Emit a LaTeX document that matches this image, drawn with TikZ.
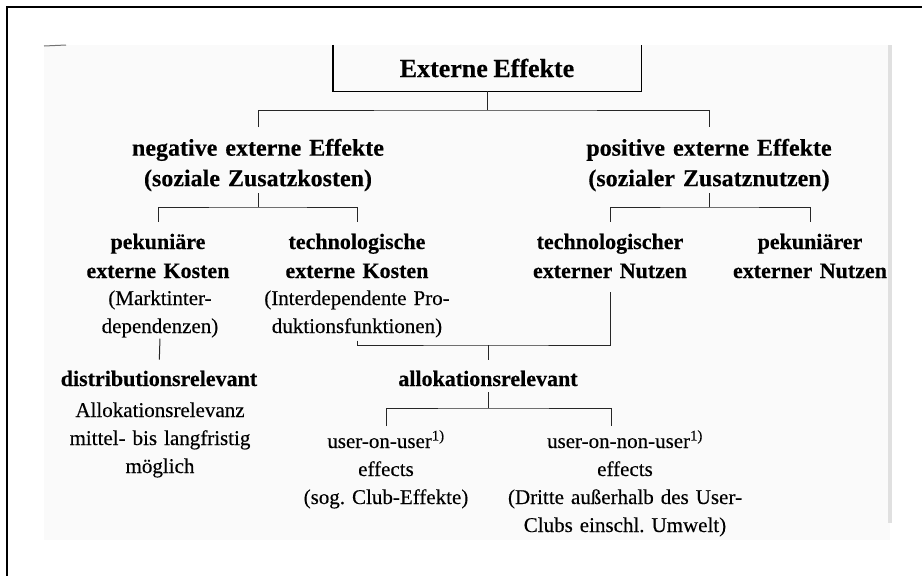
\documentclass[tikz,border=0pt]{standalone}
\usepackage{fontspec}
\setmainfont{Liberation Serif}[WordSpace=0.85, UprightFeatures={FakeBold=0.3}, BoldFeatures={FakeBold=0.3}]
\begin{document}
\frenchspacing
\begin{tikzpicture}[x=1pt,y=-1pt]
\tikzset{
  head/.style={font=\bfseries\fontsize{24}{30.5}\selectfont, align=center, inner sep=0pt, anchor=base, text width=300pt},
  sub/.style={font=\bfseries\fontsize{22}{29}\selectfont, align=center, inner sep=0pt, anchor=base, text width=240pt},
  note/.style={font=\fontsize{21}{28}\selectfont, align=center, inner sep=0pt, anchor=base, text width=250pt},
  link/.style={draw=black!85, line width=1pt},
}
\useasboundingbox (0,0) rectangle (922,576);

% scanned sheet and frame
\fill[black!2] (44,45) rectangle (890,540);
\fill[black!12] (888,45) rectangle (892,523);
\draw[black!55, line width=1pt] (44,46) -- (66,45);
\draw[line width=2.6pt] (7,576) -- (7,7) -- (922,7);

% title box, open at the top
\node (ext) at (487,68) [font=\bfseries\fontsize{26}{30}\selectfont, minimum width=308pt, minimum height=46pt, inner sep=0pt] {Externe Effekte};
\draw[line width=1.4pt] (ext.north west) |- (ext.south east) -- (ext.north east);

% first level
\node[head] (neg) at (258,155.7) {negative externe Effekte\\(soziale Zusatzkosten)};
\node[head] (pos) at (709,155.7) {positive externe Effekte\\(sozialer Zusatznutzen)};

% second level
\node[sub] (pek) at (158,249) {pekuniäre\\externe Kosten};
\node[note] (pekd) at (160,305) {(Marktinter-\\dependenzen)};
\node[sub] (tech) at (357,249) {technologische\\externe Kosten};
\node[note] (techd) at (357,305) {(Interdependente Pro-\\duktionsfunktionen)};
\node[sub] (techn) at (610,249) {technologischer\\externer Nutzen};
\node[sub] (pekn) at (810,249) {pekuniärer\\externer Nutzen};

% relevance
\node[sub] (dist) at (159,386) {distributionsrelevant};
\node[note] (distd) at (160,417) {Allokationsrelevanz\\mittel- bis langfristig\\möglich};
\node[sub] (allo) at (488,386) {allokationsrelevant};

% effects
\node[note] (user1) at (386,448) {user-on-user\textsuperscript{1)}\\effects\\(sog. Club-Effekte)};
\node[note] (user2) at (625,448) {user-on-non-user\textsuperscript{1)}\\effects\\(Dritte außerhalb des User-\\Clubs einschl. Umwelt)};

% junctions
\coordinate (j1) at (487,110);
\coordinate (j2) at (258,207);
\coordinate (j3) at (709,207);
\coordinate (j4) at (488,345);
\coordinate (j5) at (488,408);

% connectors
\draw[link] (ext.south) -- (j1);
\draw[link, shorten <=11.4pt, shorten >=11.4pt] (neg.north) |- (j1) -| (pos.north);
\draw[link, shorten <=1.5pt] (neg.south) -- (j2);
\draw[link, shorten <=12pt, shorten >=12pt] (pek.north) |- (j2) -| (tech.north);
\draw[link, shorten <=1.5pt] (pos.south) -- (j3);
\draw[link, shorten <=12pt, shorten >=12pt] (techn.north) |- (j3) -| (pekn.north);
\draw[link, shorten <=3pt, shorten >=14pt] (techd.south) |- (j4) -| (techn.south);
\draw[link, shorten >=11pt] (j4) -- (allo.north);
\draw[link, shorten <=1pt, shorten >=11pt] (pekd.south) -- (dist.north);
\draw[link, shorten <=6pt] (allo.south) -- (j5);
\draw[link, shorten <=4pt, shorten >=4pt] (user1.north) |- (j5) -| ([xshift=-14pt]user2.north);
\end{tikzpicture}
\end{document}
